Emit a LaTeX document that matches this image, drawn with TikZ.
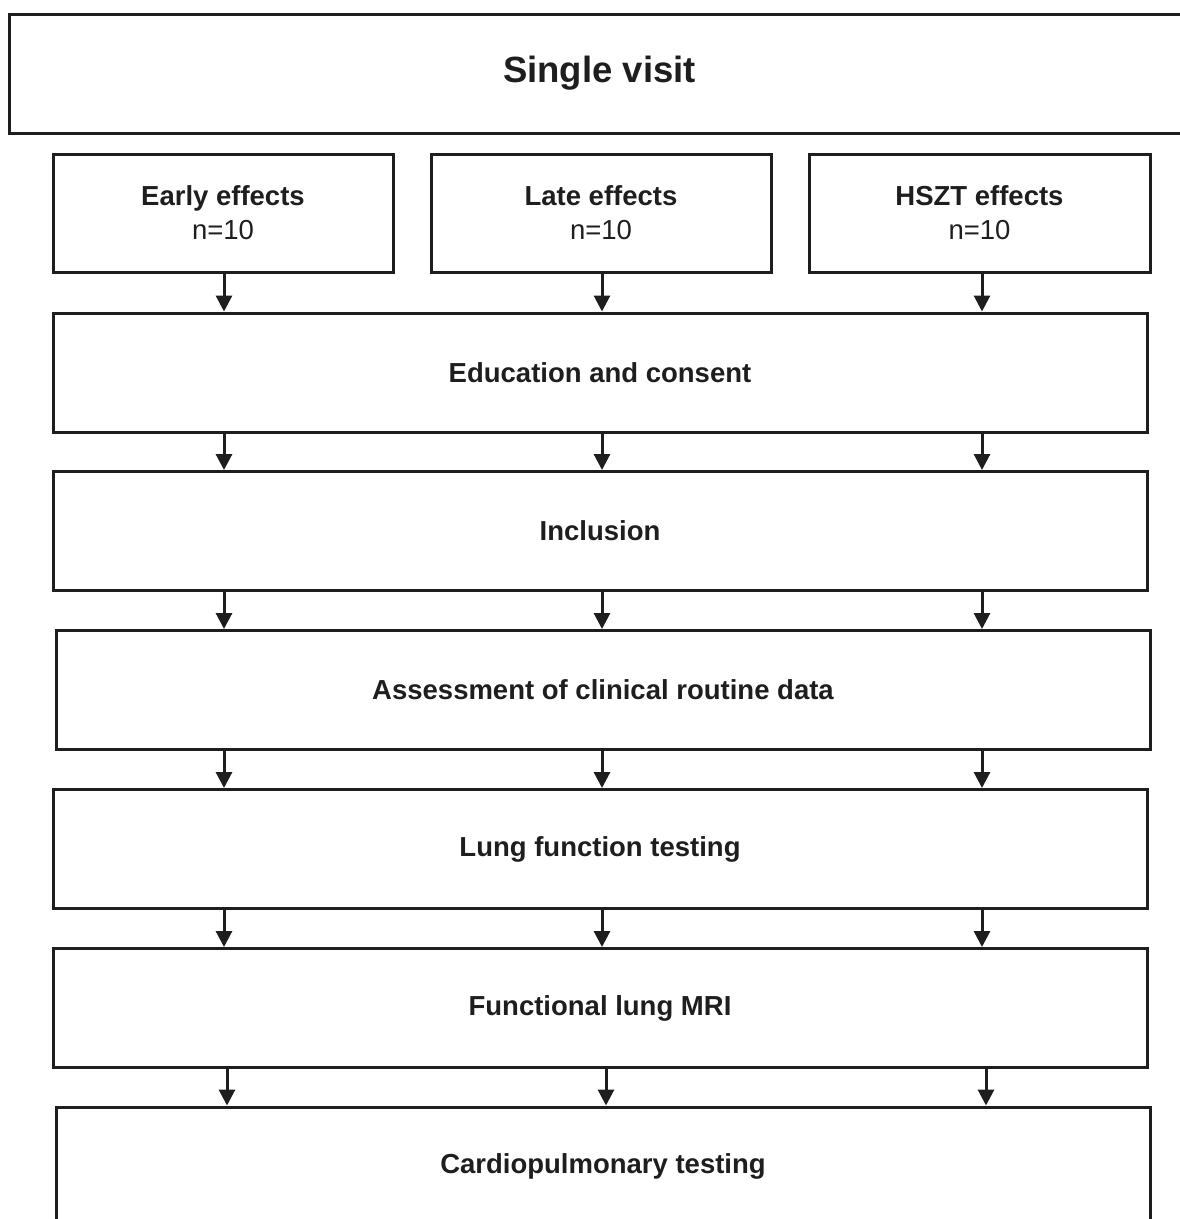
\documentclass[tikz,border=0pt]{standalone}
\usepackage{fontspec}
\setmainfont{Liberation Sans}
\usetikzlibrary{arrows.meta}
\definecolor{ink}{HTML}{1E1E1E}
\tikzset{
  box/.style={draw=ink, line width=3pt, rectangle, inner sep=0pt, text=ink, align=center, font=\bfseries\fontsize{27.5}{34}\selectfont},
  wide/.style={box, minimum width=1094pt, minimum height=119pt},
  col/.style={box, minimum width=340pt, minimum height=118pt},
  arr/.style={draw=ink, line width=3pt, -{Triangle[width=16pt,length=16pt]}}
}
\begin{document}
\begin{tikzpicture}[x=1pt,y=-1pt]
\useasboundingbox (0,0) rectangle (1179,1219);
\node[box, minimum width=1181pt, minimum height=119pt, font=\bfseries\fontsize{36.5}{42}\selectfont] (top) at (599.5,73.5) {Single visit};
\node[col] (c1) at (223,213) {Early effects\\{\mdseries n=10}};
\node[col] (c2) at (601,213) {Late effects\\{\mdseries n=10}};
\node[col, minimum width=341pt] (c3) at (979.5,213) {HSZT effects\\{\mdseries n=10}};
\node[wide] (edu) at (600,372.5) {Education and consent};
\node[wide] (inc) at (600,531) {Inclusion};
\node[wide] (ass) at (603,690) {Assessment of clinical routine data};
\node[wide] (lung) at (600,849) {Lung function testing};
\node[wide] (mri) at (600,1008) {Functional lung MRI};
\node[wide] (card) at (603,1166.5) {Cardiopulmonary testing};
\coordinate (x1) at (224,0);
\coordinate (x2) at (602,0);
\coordinate (x3) at (982,0);
\coordinate (y1) at (227,0);
\coordinate (y2) at (606,0);
\coordinate (y3) at (986,0);
\foreach \i in {1,2,3}{
  \draw[arr] (x\i |- c\i.south) -- (x\i |- edu.north);
  \draw[arr] (x\i |- edu.south) -- (x\i |- inc.north);
  \draw[arr] (x\i |- inc.south) -- (x\i |- ass.north);
  \draw[arr] (x\i |- ass.south) -- (x\i |- lung.north);
  \draw[arr] (x\i |- lung.south) -- (x\i |- mri.north);
  \draw[arr] (y\i |- mri.south) -- (y\i |- card.north);
}
\end{tikzpicture}
\end{document}
